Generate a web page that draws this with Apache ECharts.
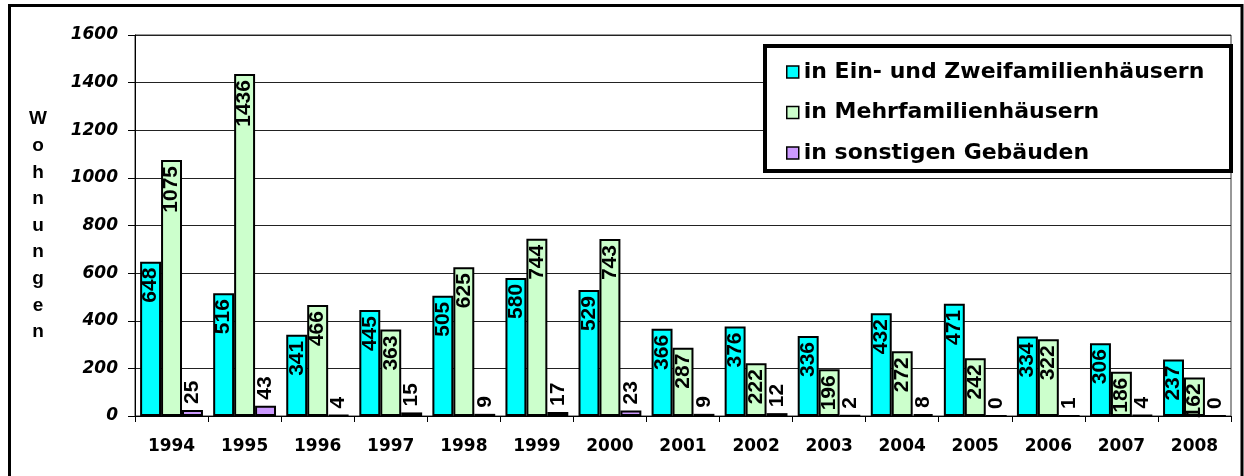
<!DOCTYPE html>
<html>
<head>
<meta charset="utf-8">
<script src="https://cdn.jsdelivr.net/npm/echarts@6/dist/echarts.min.js"></script>
<style>
  html, body { margin: 0; padding: 0; background: #fff; }
  #chart { width: 1244px; height: 476px; }
</style>
</head>
<body>
<div id="chart"></div>
<script>
// Fertiggestellte Wohnungen nach Gebäudeart
const years = ['1994','1995','1996','1997','1998','1999','2000','2001','2002','2003','2004','2005','2006','2007','2008'];
const einZweiFamilien = [648, 516, 341, 445, 505, 580, 529, 366, 376, 336, 432, 471, 334, 306, 237];
const mehrFamilien   = [1075, 1436, 466, 363, 625, 744, 743, 287, 222, 196, 272, 242, 322, 186, 162];
const sonstige       = [25, 43, 4, 15, 9, 17, 23, 9, 12, 2, 8, 0, 1, 4, 0];
const seriesNames = ['in Ein- und Zweifamilienhäusern', 'in Mehrfamilienhäusern', 'in sonstigen Gebäuden'];
const seriesColors = ['#00FFFF', '#CCFFCC', '#CC99FF'];
const yAxisTitle = 'Wohnungen';

const chart = echarts.init(document.getElementById('chart'));

const labelFont = {
  fontFamily: '"Liberation Sans", Arial, sans-serif',
  fontWeight: 'bold',
  fontSize: 21,
  color: '#000'
};

function barSeries(name, data, color, outside) {
  return {
    name: name,
    type: 'bar',
    data: data,
    barGap: '0%',
    barCategoryGap: '14%',
    itemStyle: { color: color, borderColor: '#000', borderWidth: 2 },
    label: Object.assign({
      show: true,
      rotate: 90,
      position: outside ? 'top' : 'insideTop',
      align: outside ? 'left' : 'right',
      verticalAlign: 'middle',
      distance: 6
    }, labelFont)
  };
}

chart.setOption({
  backgroundColor: '#fff',
  animation: false,
  grid: {
    left: 135, right: 13, top: 35, bottom: 60,
    show: true, borderColor: '#333', borderWidth: 1
  },
  graphic: [
    {
      type: 'rect', z: 10, silent: true,
      shape: { x: 9.5, y: 5.5, width: 1232.5, height: 500 },
      style: { fill: 'none', stroke: '#000', lineWidth: 3 }
    },
    {
      type: 'rect', z: 3, silent: true,
      shape: { x: 765, y: 46, width: 466, height: 125 },
      style: { fill: '#fff', stroke: '#000', lineWidth: 4 }
    }
  ],
  legend: {
    orient: 'vertical',
    left: 781, top: 55,
    z: 5,
    itemWidth: 12, itemHeight: 12,
    itemGap: 16.5,
    icon: 'rect',
    itemStyle: { borderColor: '#000', borderWidth: 1.5 },
    textStyle: {
      fontFamily: '"DejaVu Sans", sans-serif',
      fontWeight: 'bold',
      fontSize: 22,
      lineHeight: 24,
      color: '#000'
    },
    data: seriesNames
  },
  xAxis: {
    type: 'category',
    data: years,
    axisLine: { lineStyle: { color: '#000', width: 1 } },
    axisTick: { show: true, length: 6, lineStyle: { color: '#000' } },
    axisLabel: {
      margin: 22,
      fontFamily: '"DejaVu Sans", sans-serif',
      fontWeight: 'bold',
      fontSize: 17,
      color: '#000'
    }
  },
  yAxis: {
    type: 'value',
    min: 0, max: 1600, interval: 200,
    name: yAxisTitle.split('').join('\n'),
    nameLocation: 'middle',
    nameRotate: 0,
    nameGap: 97,
    nameTextStyle: {
      fontFamily: '"Liberation Sans", Arial, sans-serif',
      fontWeight: 'bold',
      fontSize: 19,
      lineHeight: 26.6,
      align: 'center',
      color: '#000'
    },
    axisLine: { show: true, lineStyle: { color: '#000', width: 1 } },
    axisTick: { show: true, length: 7, lineStyle: { color: '#000' } },
    splitLine: { lineStyle: { color: '#222', width: 1 } },
    axisLabel: {
      margin: 17,
      formatter: function (v) { return String(v); },
      fontFamily: '"DejaVu Sans", sans-serif',
      fontWeight: 'bold',
      fontStyle: 'italic',
      fontSize: 17,
      color: '#000'
    }
  },
  series: [
    barSeries(seriesNames[0], einZweiFamilien, seriesColors[0], false),
    barSeries(seriesNames[1], mehrFamilien, seriesColors[1], false),
    barSeries(seriesNames[2], sonstige, seriesColors[2], true)
  ]
});
</script>
</body>
</html>
